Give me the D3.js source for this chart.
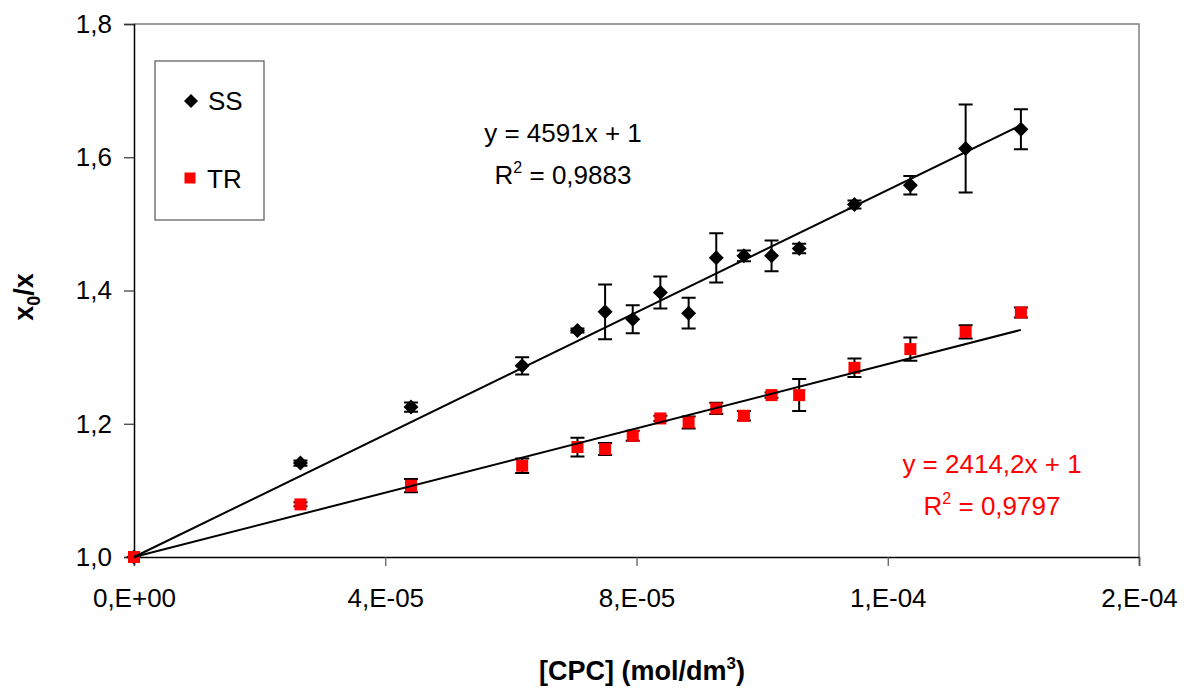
<!DOCTYPE html>
<html>
<head>
<meta charset="utf-8">
<script src="https://cdn.jsdelivr.net/npm/d3@7"></script>
<style>
  html, body { margin: 0; padding: 0; background: #fff; }
  svg { display: block; font-family: "Liberation Sans", Arial, sans-serif; }
</style>
</head>
<body>
<svg id="chart" width="1184" height="690"></svg>
<script>
// ---------------- data ----------------
const concentration = [0, 2.65e-5, 4.41e-5, 6.18e-5, 7.06e-5, 7.50e-5, 7.94e-5, 8.38e-5, 8.83e-5,
  9.27e-5, 9.71e-5, 1.015e-4, 1.059e-4, 1.147e-4, 1.236e-4, 1.324e-4, 1.412e-4];
const ssValues = [1.000, 1.141, 1.225, 1.287, 1.340, 1.368, 1.357, 1.397, 1.366,
  1.449, 1.452, 1.452, 1.463, 1.529, 1.558, 1.613, 1.642];
const ssErrors = [0, 0.004, 0.007, 0.013, 0.003, 0.041, 0.021, 0.024, 0.023,
  0.037, 0.008, 0.023, 0.007, 0.006, 0.014, 0.066, 0.030];
const trValues = [1.000, 1.079, 1.107, 1.137, 1.165, 1.162, 1.182, 1.208, 1.202,
  1.223, 1.212, 1.243, 1.243, 1.284, 1.312, 1.338, 1.367];
const trErrors = [0, 0.003, 0.010, 0.011, 0.014, 0.009, 0.0075, 0.004, 0.009,
  0.0085, 0.007, 0.004, 0.024, 0.014, 0.0175, 0.010, 0.0075];
const ssSlope = 4591, ssIntercept = 1, ssR2 = "0,9883";
const trSlope = 2414.2, trIntercept = 1, trR2 = "0,9797";
const xTickValues = [0, 4e-5, 8e-5, 1.2e-4, 1.6e-4];
const xTickLabels = ["0,E+00", "4,E-05", "8,E-05", "1,E-04", "2,E-04"];
const yTickValues = [1.0, 1.2, 1.4, 1.6, 1.8];
const yTickLabels = ["1,0", "1,2", "1,4", "1,6", "1,8"];
const seriesNames = ["SS", "TR"];

// ---------------- layout ----------------
const svg = d3.select("#chart");
const L = 134, T = 24, R = 1139, B = 557;
const x = d3.scaleLinear().domain([0, 1.6e-4]).range([L, R]);
const y = d3.scaleLinear().domain([1.0, 1.8]).range([B, T]);
const FS = 26;

// plot border (top & right gray)
svg.append("path")
  .attr("d", `M${L},${T}H${R}V${B}`)
  .attr("fill", "none").attr("stroke", "#808080").attr("stroke-width", 1.5);

// axes
const xAxis = d3.axisBottom(x).tickValues(xTickValues)
  .tickFormat((d, i) => xTickLabels[i]).tickSizeOuter(0).tickSize(9).tickPadding(23);
const gx = svg.append("g").attr("transform", `translate(0,${B})`).call(xAxis);
gx.select(".domain").attr("stroke", "#000").attr("stroke-width", 1.5);
gx.selectAll(".tick line").attr("stroke", "#555").attr("stroke-width", 1.2);
gx.selectAll("text").attr("font-size", FS).attr("fill", "#000")
  .attr("font-family", "Liberation Sans, Arial, sans-serif");

const yAxis = d3.axisLeft(y).tickValues(yTickValues)
  .tickFormat((d, i) => yTickLabels[i]).tickSizeOuter(0).tickSize(10).tickPadding(12);
const gy = svg.append("g").attr("transform", `translate(${L},0)`).call(yAxis);
gy.select(".domain").attr("stroke", "#000").attr("stroke-width", 1.5);
gy.selectAll(".tick line").attr("stroke", "#333").attr("stroke-width", 1.2);
gy.selectAll("text").attr("font-size", FS).attr("fill", "#000")
  .attr("font-family", "Liberation Sans, Arial, sans-serif");

// axis titles
const xt = svg.append("text").attr("x", 642).attr("y", 680)
  .attr("text-anchor", "middle").attr("font-size", 27).attr("font-weight", "bold");
xt.append("tspan").text("[CPC] (mol/dm");
xt.append("tspan").attr("dy", -11).attr("font-size", 17).text("3");
xt.append("tspan").attr("dy", 11).text(")");

const yt = svg.append("text").attr("transform", "translate(33,297) rotate(-90)")
  .attr("text-anchor", "middle").attr("font-size", 27).attr("font-weight", "bold");
yt.append("tspan").text("x");
yt.append("tspan").attr("dy", 7).attr("font-size", 18).text("0");
yt.append("tspan").attr("dy", -7).text("/x");

// error bars
function errorBars(vals, errs) {
  const g = svg.append("g").attr("stroke", "#000").attr("stroke-width", 2).attr("fill", "none");
  concentration.forEach((c, i) => {
    if (!errs[i]) return;
    const cx = x(c), y1 = y(vals[i] + errs[i]), y2 = y(vals[i] - errs[i]);
    g.append("path").attr("d", `M${cx},${y1}V${y2}M${cx - 7},${y1}H${cx + 7}M${cx - 7},${y2}H${cx + 7}`);
  });
}
errorBars(ssValues, ssErrors);
errorBars(trValues, trErrors);

// markers
const diamond = r => `M0,${-r}L${r},0L0,${r}L${-r},0Z`;
svg.append("g").selectAll("path").data(concentration).join("path")
  .attr("d", diamond(7.5))
  .attr("transform", (d, i) => `translate(${x(d)},${y(ssValues[i])})`)
  .attr("fill", "#000");
svg.append("g").selectAll("rect").data(concentration).join("rect")
  .attr("x", d => x(d) - 6).attr("y", (d, i) => y(trValues[i]) - 6)
  .attr("width", 12).attr("height", 12).attr("fill", "#ff0000");

// trendlines
const xMax = d3.max(concentration);
[[ssSlope, ssIntercept], [trSlope, trIntercept]].forEach(([m, b]) => {
  svg.append("line")
    .attr("x1", x(0)).attr("y1", y(b))
    .attr("x2", x(xMax)).attr("y2", y(m * xMax + b))
    .attr("stroke", "#000").attr("stroke-width", 2);
});

// equations
function equation(cx, by, eq, r2, color) {
  svg.append("text").attr("x", cx).attr("y", by).attr("text-anchor", "middle")
    .attr("font-size", FS).attr("fill", color).text(eq);
  const t = svg.append("text").attr("x", cx).attr("y", by + 42).attr("text-anchor", "middle")
    .attr("font-size", FS).attr("fill", color);
  t.append("tspan").text("R");
  t.append("tspan").attr("dy", -11).attr("font-size", 16).text("2");
  t.append("tspan").attr("dy", 11).text(" = " + r2);
}
equation(563, 142, `y = ${ssSlope}x + ${ssIntercept}`, ssR2, "#000");
equation(992, 473, `y = ${String(trSlope).replace(".", ",")}x + ${trIntercept}`, trR2, "#ff0000");

// legend
svg.append("rect").attr("x", 155).attr("y", 61).attr("width", 109).attr("height", 159)
  .attr("fill", "#fff").attr("stroke", "#555").attr("stroke-width", 1.2);
svg.append("path").attr("d", diamond(7)).attr("transform", "translate(191,101)").attr("fill", "#000");
svg.append("rect").attr("x", 184.5).attr("y", 172.5).attr("width", 11).attr("height", 11).attr("fill", "#ff0000");
svg.append("text").attr("x", 208).attr("y", 110).attr("font-size", FS).text(seriesNames[0]);
svg.append("text").attr("x", 207).attr("y", 188).attr("font-size", FS).text(seriesNames[1]);
</script>
</body>
</html>
